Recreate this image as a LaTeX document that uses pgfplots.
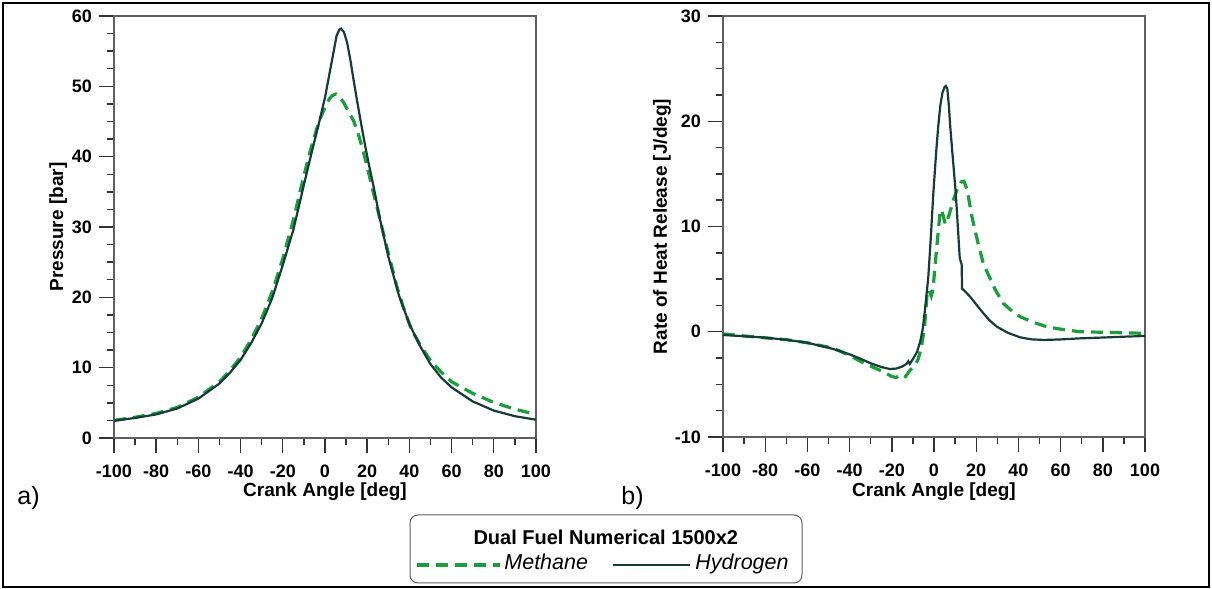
\documentclass[border=0pt]{standalone}
\usepackage{fontspec}
\setmainfont{Liberation Sans}
\usepackage{pgfplots}
\pgfplotsset{compat=1.18}

\definecolor{methane}{RGB}{24,158,58}
\definecolor{hydrogen}{RGB}{22,60,56}
\definecolor{axisgray}{RGB}{95,95,95}

% Cylinder pressure [bar] vs crank angle [deg]
\pgfplotstableread{
x y
-100 2.46
-90 2.85
-80 3.35
-70 4.2
-60 5.6
-50 7.75
-45 9.3
-40 11.1
-35 13.5
-30 16.3
-25 19.9
-20 24.6
-15 29.6
-10 36.0
-6 41.0
-3 44.6
0 48.4
2 51.6
4 54.8
5.5 57.2
6.8 58.05
7.6 58.2
9 57.7
10.5 56.2
12 53.8
13.5 51.0
15 48.3
17 44.9
19 41.6
21 38.6
23 35.8
26 31.2
30 25.8
35 20.3
40 16.2
45 13.1
50 10.5
55 8.6
60 7.2
70 5.2
80 3.9
90 3.1
100 2.6
}\pressHyd

\pgfplotstableread{
x y
-100 2.5
-90 2.95
-80 3.5
-70 4.35
-60 5.8
-50 8.0
-45 9.6
-40 11.5
-35 14.0
-30 17.0
-25 20.8
-20 25.5
-15 31.0
-10 37.3
-7 40.8
-4 43.9
-2 45.6
0 47.0
2 48.2
3.5 48.7
5.2 48.9
7 48.5
9 47.6
11 46.5
13.7 45.0
16 43.0
18 40.9
20 38.6
22 36.0
25 32.4
28 28.7
30 26.3
34 21.6
37 18.7
41 15.4
45 13.3
50 11.0
55 9.4
60 8.0
70 6.35
80 5.05
90 4.1
100 3.35
}\pressMeth

% Rate of heat release [J/deg] vs crank angle [deg]
\pgfplotstableread{
x y
-100 -0.31
-90 -0.42
-80 -0.56
-70 -0.76
-60 -1.05
-50 -1.52
-45 -1.8
-40 -2.15
-35 -2.55
-30 -3.0
-25 -3.35
-21 -3.54
-18 -3.5
-15 -3.3
-13 -3.05
-12.2 -2.8
-11.5 -3.05
-10 -2.6
-8 -1.9
-6.5 -0.9
-5.3 0.3
-4 2.6
-2.7 5.2
-1.5 9.0
-0.3 13.2
1 17.0
2 19.5
3 21.5
4 22.7
5 23.25
5.6 23.35
6.3 23.1
7 21.6
7.7 19.5
9 16.3
10.3 13.2
11.3 10.0
12.2 7.0
13.1 6.4
13.3 4.1
15 3.78
17.1 3.33
20 2.6
23.4 1.75
26.5 1.05
29.8 0.48
35 -0.1
40.8 -0.53
46 -0.72
52 -0.78
60 -0.73
69 -0.63
80 -0.55
90 -0.47
100 -0.4
}\hrrHyd

\pgfplotstableread{
x y
-100 -0.2
-90 -0.4
-80 -0.58
-70 -0.75
-60 -1.05
-50 -1.47
-45 -1.8
-40 -2.25
-34 -2.9
-28 -3.45
-24 -3.8
-20 -4.25
-18 -4.35
-15.5 -4.05
-13.5 -4.25
-11.5 -3.7
-9 -3.2
-7.5 -2.6
-6 -1.5
-4.5 0.4
-3.3 3.5
-2.5 4.0
-1.3 3.4
-0.5 4.0
1.2 7.8
2.8 11.2
3.6 11.6
4.5 10.9
5.4 10.2
7 11.0
9.3 12.6
11.5 13.8
13 14.25
14.2 14.3
15.5 13.6
16.5 12.6
18 10.9
21 8.3
23.5 6.4
26.5 5.1
29 4.0
32.8 2.7
37 1.95
40.8 1.43
47 0.9
53.4 0.48
60 0.25
69 0.0
80 -0.05
90 -0.1
100 -0.15
}\hrrMeth

\tikzset{
  meth/.style={color=methane, line width=1.6pt, dash pattern=on 6pt off 3.5pt},
  hyd/.style={color=hydrogen, line width=1.1pt},
}

\pgfplotsset{
  engine/.style={
    scale only axis,
    xmin=-100, xmax=100,
    xtick={-100,-80,...,100},
    xticklabels={-100,-80,-60,-40,-20,0,20,40,60,80,100},
    minor x tick num=1,
    minor y tick num=3,
    tick align=outside,
    xtick pos=bottom, ytick pos=left,
    major tick length=7.5pt,
    minor tick length=3.5pt,
    axis line style={draw=axisgray, line width=0.6pt},
    tick style={draw=black!80, line width=0.7pt},
    tick label style={font=\bfseries\fontsize{9}{10}\selectfont},
    xticklabel style={yshift=-2.5pt},
    label style={font=\bfseries\fontsize{9.5}{11}\selectfont},
    /pgf/number format/assume math mode=true,
    xlabel={Crank Angle [deg]},
    clip=false,
  },
}

\begin{document}
\begin{tikzpicture}
\useasboundingbox (0,0) rectangle (606pt,294.5pt);
\draw[black, line width=1.25pt] (1.5pt,1pt) rectangle (604.5pt,293pt);

% a) cylinder pressure
\begin{axis}[engine,
  at={(57pt,75.5pt)}, anchor=south west,
  width=211pt, height=211pt,
  ymin=0, ymax=60, ytick={0,10,...,60},
  ylabel={Pressure [bar]},
  ylabel style={at={(axis description cs:-0.132,0.5)}, anchor=center},
  xlabel style={at={(axis description cs:0.5,-0.128)}, anchor=center},
]
\addplot[meth] table[x=x,y=y] {\pressMeth};
\addplot[hyd] table[x=x,y=y] {\pressHyd};
\end{axis}

% b) rate of heat release
\begin{axis}[engine,
  at={(361.5pt,76pt)}, anchor=south west,
  width=211pt, height=210.5pt,
  ymin=-10, ymax=30, ytick={-10,0,...,30},
  yticklabels={-10,0,10,20,30},
  ylabel={Rate of Heat Release [J/deg]},
  ylabel style={at={(axis description cs:-0.1445,0.5)}, anchor=center},
  xlabel style={at={(axis description cs:0.5,-0.1306)}, anchor=center},
]
\addplot[meth] table[x=x,y=y] {\hrrMeth};
\addplot[hyd] table[x=x,y=y] {\hrrHyd};
\end{axis}

\node[font=\fontsize{12.5}{14}\selectfont, inner sep=0pt] at (14.25pt,45.25pt) {a)};
\node[font=\fontsize{12.5}{14}\selectfont, inner sep=0pt] at (316.3pt,45.25pt) {b)};

% legend
\draw[axisgray, line width=0.5pt, rounded corners=4pt] (205pt,3pt) rectangle (401pt,37pt);
\node[font=\bfseries\fontsize{10}{12}\selectfont, inner sep=0pt] at (302.9pt,26pt) {Dual Fuel Numerical 1500x2};
\draw[meth] (208.5pt,12pt) -- (250pt,12pt);
\node[font=\itshape\fontsize{10.75}{12}\selectfont, inner sep=0pt, anchor=base west] at (252pt,9.5pt) {Methane};
\draw[hyd] (306.5pt,12pt) -- (345pt,12pt);
\node[font=\itshape\fontsize{10.75}{12}\selectfont, inner sep=0pt, anchor=base west] at (347.5pt,9.5pt) {Hydrogen};
\end{tikzpicture}
\end{document}
